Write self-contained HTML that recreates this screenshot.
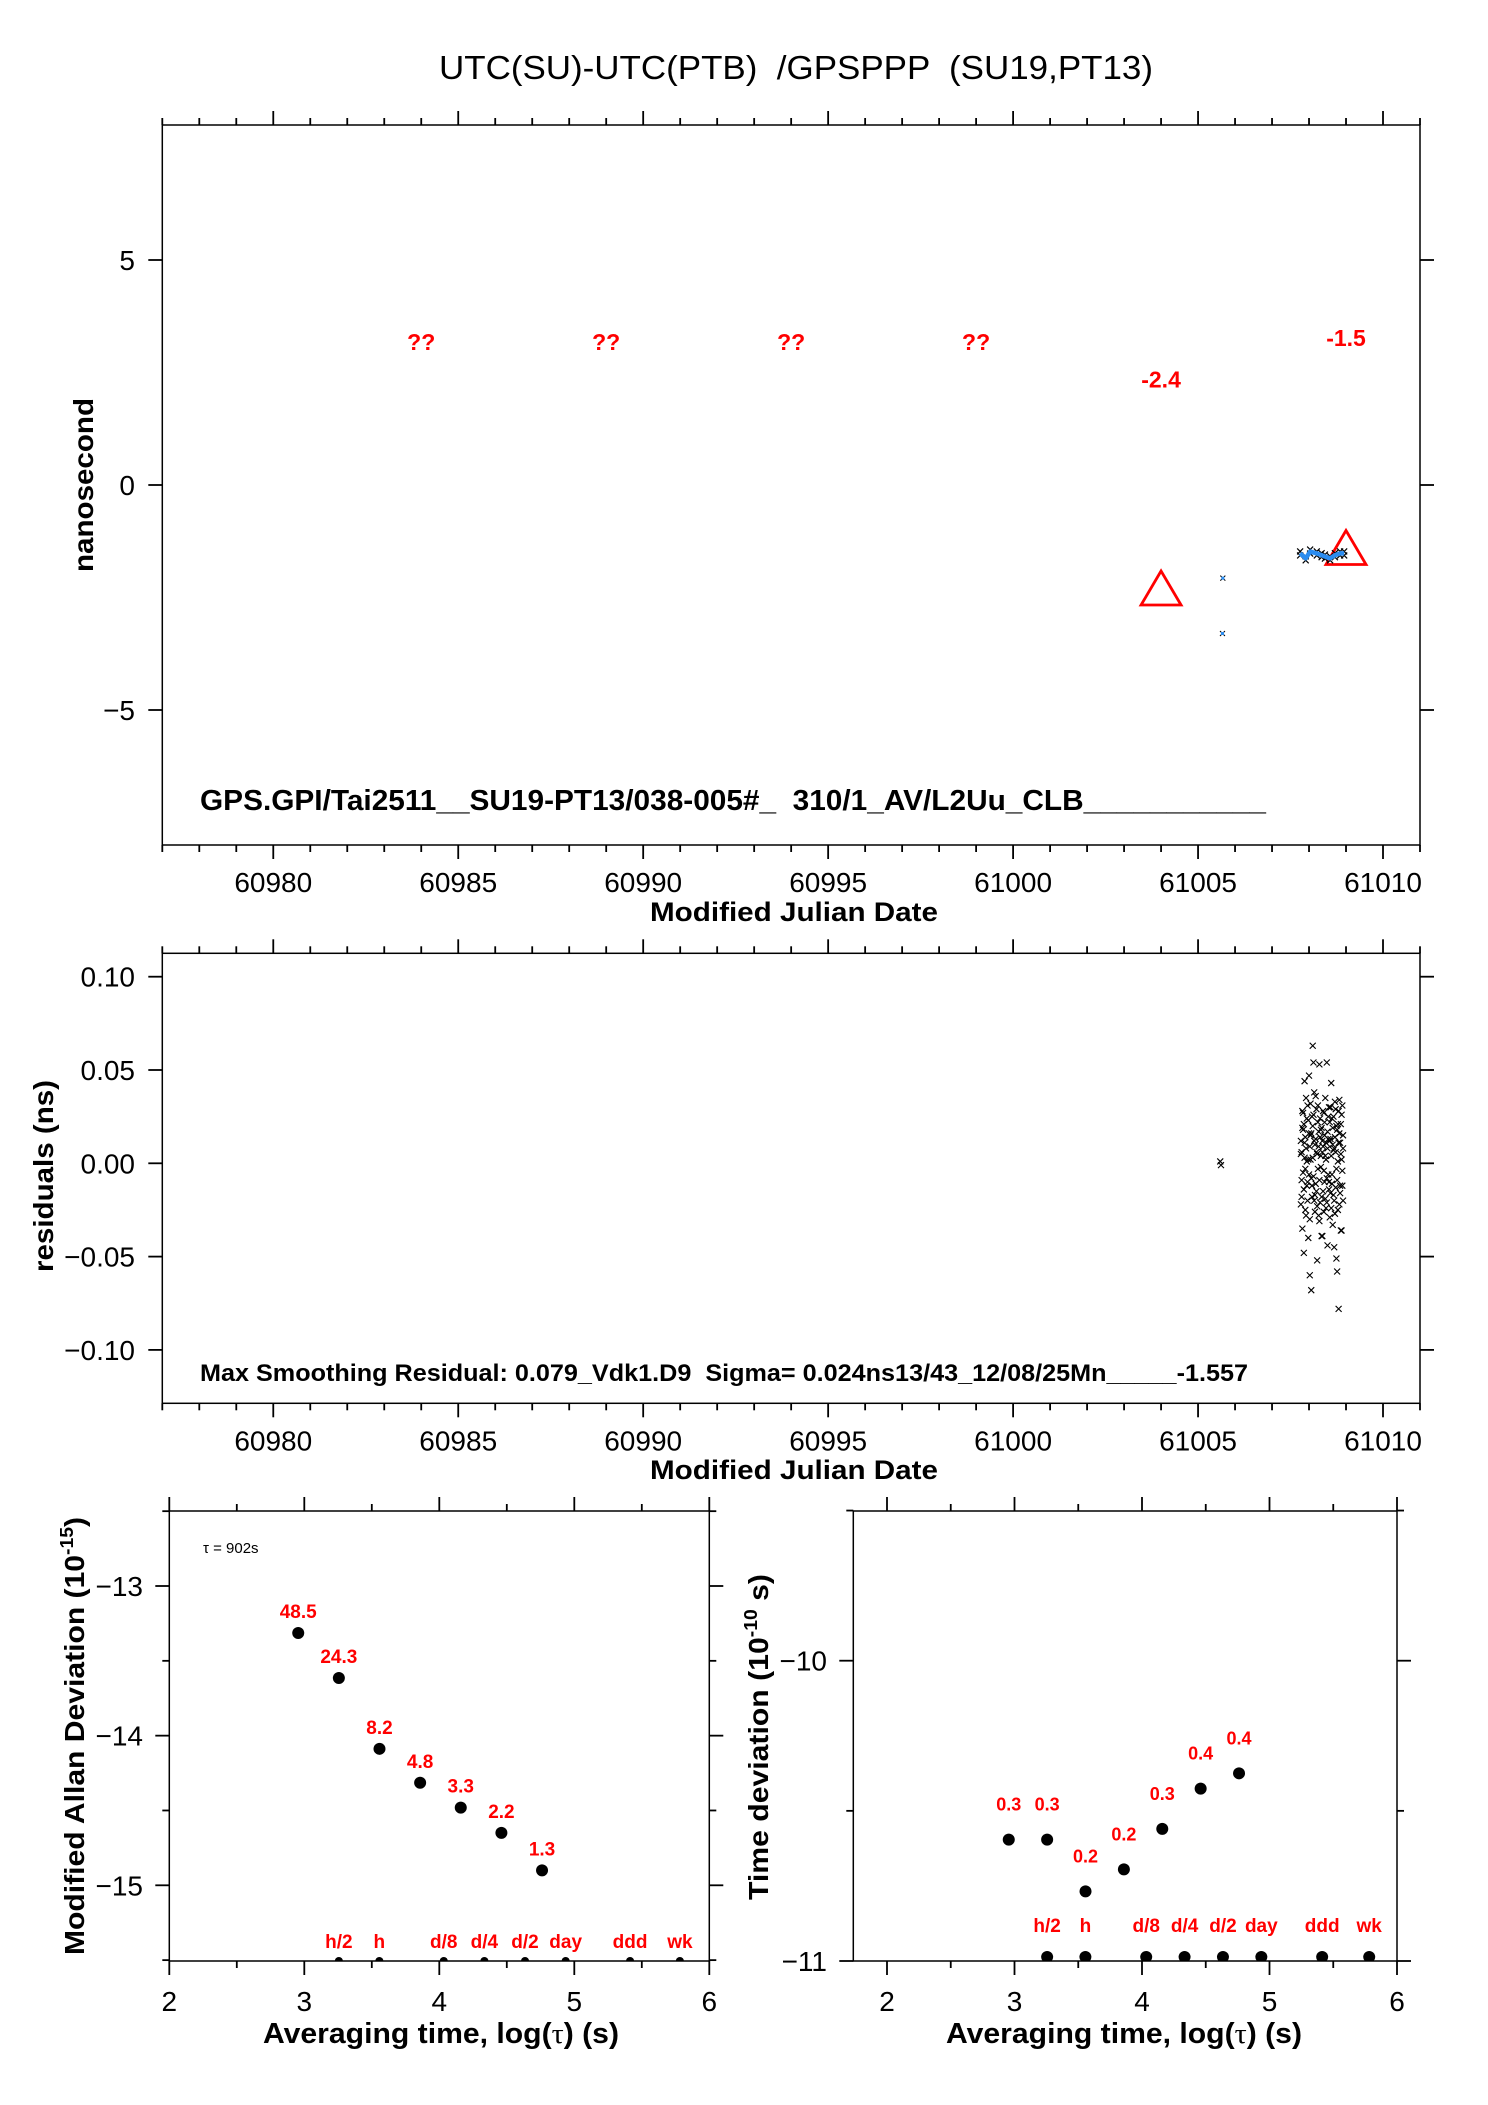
<!DOCTYPE html>
<html><head><meta charset="utf-8"><title>UTC(SU)-UTC(PTB) GPSPPP</title>
<style>
html,body{margin:0;padding:0;background:#fff;}
svg{display:block;font-family:"Liberation Sans",sans-serif;}
svg text{white-space:pre;}
</style></head>
<body>
<svg id="chart" xmlns="http://www.w3.org/2000/svg" width="1488" height="2105" viewBox="0 0 1488 2105" xml:space="preserve">
<rect x="0" y="0" width="1488" height="2105" fill="#fff"/>
<text x="796" y="79" font-size="33" text-anchor="middle" textLength="714" lengthAdjust="spacingAndGlyphs">UTC(SU)-UTC(PTB)  /GPSPPP  (SU19,PT13)</text>
</svg>
<script>
// ---------- data ----------
const mjdTicks = [60980, 60985, 60990, 60995, 61000, 61005, 61010];
const nsTicks = [-5, 0, 5];
const nsTickLabels = ["\u22125", "0", "5"];
const resTicks = [-0.10, -0.05, 0.00, 0.05, 0.10];
const resTickLabels = ["\u22120.10", "\u22120.05", "0.00", "0.05", "0.10"];

const lineMjd = [61007.76, 61007.91, 61008.03, 61008.21, 61008.34, 61008.43, 61008.57, 61008.70, 61008.84, 61008.95];
const lineNs = [-1.52, -1.63, -1.48, -1.52, -1.56, -1.59, -1.63, -1.56, -1.52, -1.52];
const isoMjd = [61005.67, 61005.66];
const isoNs = [-2.07, -3.30];
const triMjd = [61004, 61009];
const triNs = [-2.4, -1.5];
const triLabels = ["-2.4", "-1.5"];
const triLabelNs = [2.35, 3.27];
const qMjd = [60984, 60989, 60994, 60999];
const qNs = [3.18, 3.18, 3.18, 3.18];

const resMjd = [61007.78,61007.80,61007.82,61007.84,61007.86,61007.88,61007.90,61007.92,61007.94,61007.96,
61007.98,61008.00,61008.02,61008.04,61008.06,61008.08,61008.10,61008.12,61008.14,61008.16,
61008.18,61008.20,61008.22,61008.24,61008.26,61008.28,61008.30,61008.32,61008.34,61008.36,
61008.38,61008.40,61008.42,61008.44,61008.46,61008.48,61008.50,61008.52,61008.54,61008.56,
61008.58,61008.60,61008.62,61008.64,61008.66,61008.68,61008.70,61008.72,61008.74,61008.76,
61008.78,61008.80,61008.82,61008.84,61008.86,61008.88,61008.90,61008.92];
const resA = [0.012,-0.018,0.028,-0.005,0.021,0.044,-0.025,0.008,-0.012,0.031,
0.002,0.047,-0.030,0.015,-0.008,0.025,0.063,0.054,-0.020,0.010,
0.036,-0.015,0.005,0.022,-0.028,0.053,0.014,-0.002,0.019,-0.039,
0.009,0.027,-0.010,0.004,-0.024,0.054,0.017,-0.006,0.030,0.012,
-0.016,0.043,0.024,-0.033,0.007,-0.045,0.033,-0.013,0.020,-0.058,
0.001,0.028,-0.022,0.011,-0.036,0.026,-0.004,0.015];
const resB = [-0.022,0.006,-0.035,0.018,-0.048,0.003,0.014,-0.028,0.024,-0.010,
-0.040,0.016,-0.060,0.002,-0.068,-0.018,0.020,-0.007,0.012,-0.026,
-0.011,0.029,-0.052,-0.003,0.009,-0.031,-0.021,0.018,-0.039,0.006,
-0.015,-0.026,0.022,-0.019,0.011,-0.008,-0.044,0.025,-0.014,-0.029,
0.013,-0.024,-0.006,0.019,-0.017,0.008,-0.027,0.029,-0.051,-0.009,
0.021,-0.078,0.016,-0.012,0.005,-0.036,0.031,-0.020];
const resC = [0.005,-0.009,0.019,0.027,-0.014,0.011,-0.003,0.035,0.001,-0.020,
0.023,-0.006,0.009,0.032,0.016,-0.012,0.003,0.026,0.038,-0.017,
0.013,0.006,-0.023,0.031,0.017,-0.009,0.024,0.004,-0.018,0.012,
0.028,-0.004,0.015,0.035,0.002,-0.021,0.008,0.013,-0.010,0.022,
0.030,0.004,-0.011,0.010,0.025,-0.020,0.014,0.006,-0.003,0.018,
-0.025,0.011,0.034,-0.016,0.021,0.002,-0.012,0.008];
const resIsoMjd = [61005.60, 61005.62];
const resIsoVal = [0.001, -0.001];

const logTicks = [2, 3, 4, 5, 6];
const adevLogTau = [2.955, 3.256, 3.557, 3.858, 4.159, 4.460, 4.761];
const adevVal = [-13.314, -13.615, -14.088, -14.315, -14.481, -14.650, -14.900];
const adevLabels = ["48.5", "24.3", "8.2", "4.8", "3.3", "2.2", "1.3"];
const adevTicks = [-15, -14, -13];
const adevTickLabels = ["\u221215", "\u221214", "\u221213"];

const tdevLogTau = [2.955, 3.256, 3.557, 3.858, 4.159, 4.460, 4.761];
const tdevVal = [-10.596, -10.596, -10.768, -10.695, -10.560, -10.426, -10.375];
const tdevLabels = ["0.3", "0.3", "0.2", "0.2", "0.3", "0.4", "0.4"];
const tdevTicks = [-11, -10];
const tdevTickLabels = ["\u221211", "\u221210"];

const markLog = [3.256, 3.556, 4.033, 4.334, 4.635, 4.936, 5.413, 5.782];
const markLabels = ["h/2", "h", "d/8", "d/4", "d/2", "day", "ddd", "wk"];

// ---------- helpers ----------
const svg = document.getElementById('chart');
const NS = 'http://www.w3.org/2000/svg';
function mk(tag, attrs, parent) {
  const e = document.createElementNS(NS, tag);
  for (const k in attrs) e.setAttribute(k, attrs[k]);
  (parent || svg).appendChild(e);
  return e;
}
function lin(d0, d1, p0, p1) { return v => p0 + (v - d0) * (p1 - p0) / (d1 - d0); }

const P1 = {l:162.3, r:1420, t:125, b:845};
const P2 = {l:162.3, r:1420, t:953.3, b:1403.3};
const P3 = {l:169.3, r:709.3, t:1511, b:1961};
const P4 = {l:853.3, r:1397, t:1511, b:1961};
const x1 = lin(60977, 61011, P1.l, P1.r);
const y1 = lin(0, 5, 485, 260);
const y2 = lin(0, 0.05, 1163.3, 1070);
const x3 = lin(2, 6, P3.l, P3.r);
const y3 = lin(-13, -15, 1586, 1885.3);
const x4 = lin(2, 6, 887, P4.r);
const y4 = lin(-10, -11, 1660.7, 1961);

function frame(P, name) {
  const r = mk('rect', {x:P.l, y:P.t, width:P.r-P.l, height:P.b-P.t, fill:'none', stroke:'#000', 'stroke-width':1.5});
  
  
}
function tick(x1_, y1_, x2_, y2_, name) {
  const t = mk('line', {x1:x1_, y1:y1_, x2:x2_, y2:y2_, stroke:'#000', 'stroke-width':1.8});
  
  
}
function txt(x, y, s, attrs, name) {
  const t = mk('text', Object.assign({x:x, y:y}, attrs));
  t.textContent = s;
  
  
  return t;
}

// ---------- panel 1 & 2 ----------
frame(P1, 'time-series-frame');
frame(P2, 'residuals-frame');
[P1, P2].forEach((P) => {
  for (let m = 60977; m <= 61011; m++) {
    const major = (m % 5 === 0);
    const L = major ? 14 : 7;
    const xx = x1(m);
    tick(xx, P.t, xx, P.t - L, 'x-tick-top');
    tick(xx, P.b, xx, P.b + L, 'x-tick-bottom');
  }
  mjdTicks.forEach(m => {
    txt(x1(m), P.b + 47, String(m), {'font-size':28, 'text-anchor':'middle'}, 'x-tick-label');
  });
});
nsTicks.forEach((v, i) => {
  tick(P1.l, y1(v), P1.l - 14, y1(v), 'y-tick-left');
  tick(P1.r, y1(v), P1.r + 14, y1(v), 'y-tick-right');
  txt(135, y1(v) + 10, nsTickLabels[i], {'font-size':28, 'text-anchor':'end'}, 'y-tick-label');
});
resTicks.forEach((v, i) => {
  tick(P2.l, y2(v), P2.l - 14, y2(v), 'y-tick-left');
  tick(P2.r, y2(v), P2.r + 14, y2(v), 'y-tick-right');
  txt(135, y2(v) + 10, resTickLabels[i], {'font-size':28, 'text-anchor':'end'}, 'y-tick-label');
});
txt(794, 921, 'Modified Julian Date', {'font-size':27, 'font-weight':'bold', 'text-anchor':'middle', textLength:288, lengthAdjust:'spacingAndGlyphs'}, 'x-axis-title');
txt(794, 1479, 'Modified Julian Date', {'font-size':27, 'font-weight':'bold', 'text-anchor':'middle', textLength:288, lengthAdjust:'spacingAndGlyphs'}, 'x-axis-title');
txt(0, 0, 'nanosecond', {'font-size':28, 'font-weight':'bold', 'text-anchor':'middle', textLength:174, lengthAdjust:'spacingAndGlyphs', transform:'translate(93,485) rotate(-90)'}, 'y-axis-title');
txt(0, 0, 'residuals (ns)', {'font-size':28, 'font-weight':'bold', 'text-anchor':'middle', textLength:192, lengthAdjust:'spacingAndGlyphs', transform:'translate(53,1176) rotate(-90)'}, 'y-axis-title');
txt(200, 810, 'GPS.GPI/Tai2511__SU19-PT13/038-005#_  310/1_AV/L2Uu_CLB___________', {'font-size':29, 'font-weight':'bold', textLength:1066, lengthAdjust:'spacingAndGlyphs'}, 'link-info-text');
txt(200, 1381, 'Max Smoothing Residual: 0.079_Vdk1.D9  Sigma= 0.024ns13/43_12/08/25Mn_____-1.557', {'font-size':24, 'font-weight':'bold', textLength:1048, lengthAdjust:'spacingAndGlyphs'}, 'residual-stats-text');

qMjd.forEach((m, i) => {
  txt(x1(m), y1(qNs[i]) + 8, '??', {'font-size':23, 'font-weight':'bold', fill:'#ff0000', 'text-anchor':'middle'}, 'missing-value-label');
});
triMjd.forEach((m, i) => {
  txt(x1(m), y1(triLabelNs[i]) + 8, triLabels[i], {'font-size':23, 'font-weight':'bold', fill:'#ff0000', 'text-anchor':'middle'}, 'mean-value-label');
  const cx = x1(m), cy = y1(triNs[i]);
  const tri = mk('polygon', {points:`${cx},${cy-22} ${cx-20},${cy+12} ${cx+20},${cy+12}`, fill:'none', stroke:'#ff0000', 'stroke-width':2.8});
  
  
});
function xmark(cx, cy, s, color, w, name) {
  const p = mk('path', {d:`M${cx-s},${cy-s}L${cx+s},${cy+s}M${cx-s},${cy+s}L${cx+s},${cy-s}`, stroke:color, 'stroke-width':w, fill:'none'});
  
  
}
lineMjd.forEach((m, i) => {
  xmark(x1(m), y1(lineNs[i]) - 2, 3, '#000', 1.2, 'data-marker');
  xmark(x1(m), y1(lineNs[i]) + 2, 3, '#000', 1.2, 'data-marker');
});
const pl = mk('polyline', {points: lineMjd.map((m, i) => x1(m) + ',' + y1(lineNs[i])).join(' '), fill:'none', stroke:'#2a8cf0', 'stroke-width':4.5, 'stroke-linejoin':'round'});


isoMjd.forEach((m, i) => {
  xmark(x1(m), y1(isoNs[i]), 2.5, '#000', 1, 'isolated-point');
  const d = mk('rect', {x:x1(m)-1.5, y:y1(isoNs[i])-1.5, width:3, height:3, fill:'#2a8cf0'});
  
  
});

[resA, resB, resC].forEach(series => {
  series.forEach((v, i) => {
    xmark(x1(resMjd[i]), y2(v), 3, '#000', 1.1, 'residual-point');
  });
});
resIsoMjd.forEach((m, i) => {
  xmark(x1(m), y2(resIsoVal[i]), 3, '#000', 1.1, 'residual-point');
});

// ---------- bottom panels ----------
frame(P3, 'adev-frame');
frame(P4, 'tdev-frame');
const defs = mk('defs', {});
const cp3 = mk('clipPath', {id:'clip3'}, defs);
mk('rect', {x:P3.l, y:P3.t, width:P3.r-P3.l, height:P3.b-P3.t}, cp3);
const cp4 = mk('clipPath', {id:'clip4'}, defs);
mk('rect', {x:P4.l, y:P4.t, width:P4.r-P4.l, height:P4.b-P4.t}, cp4);

function xTicksLog(P, xf, lo) {
  for (let v = lo; v <= 6.001; v += 0.5) {
    const major = Math.abs(v - Math.round(v)) < 1e-6;
    const L = major ? 14 : 7;
    tick(xf(v), P.t, xf(v), P.t - L, 'x-tick-top');
    tick(xf(v), P.b, xf(v), P.b + L, 'x-tick-bottom');
  }
  logTicks.forEach(v => txt(xf(v), 2011, String(v), {'font-size':28, 'text-anchor':'middle'}, 'x-tick-label'));
}
xTicksLog(P3, x3, 2);
xTicksLog(P4, x4, 2);
function yTicksHalf(P, yf, lo, hi, majors, labels, labelRight) {
  for (let v = lo; v <= hi + 1e-6; v += 0.5) {
    const major = Math.abs(v - Math.round(v)) < 1e-6;
    const L = major ? 14 : 7;
    tick(P.l, yf(v), P.l - L, yf(v), 'y-tick-left');
    tick(P.r, yf(v), P.r + L, yf(v), 'y-tick-right');
  }
  majors.forEach((v, i) => txt(labelRight, yf(v) + 10, labels[i], {'font-size':28, 'text-anchor':'end'}, 'y-tick-label'));
}
yTicksHalf(P3, y3, -15.5, -12.5, adevTicks, adevTickLabels, 143);
yTicksHalf(P4, y4, -11, -9.5, tdevTicks, tdevTickLabels, 827);

txt(203, 1553, '\u03c4 = 902s', {'font-size':15}, 'tau-annotation');

adevLogTau.forEach((v, i) => {
  const c = mk('circle', {cx:x3(v), cy:y3(adevVal[i]), r:6, fill:'#000'});
  
  
  txt(x3(v), y3(adevVal[i]) - 15, adevLabels[i], {'font-size':19, 'font-weight':'bold', fill:'#ff0000', 'text-anchor':'middle'}, 'adev-value-label');
});
tdevLogTau.forEach((v, i) => {
  const c = mk('circle', {cx:x4(v), cy:y4(tdevVal[i]), r:6, fill:'#000'});
  
  
  txt(x4(v), y4(tdevVal[i]) - 29, tdevLabels[i], {'font-size':18, 'font-weight':'bold', fill:'#ff0000', 'text-anchor':'middle'}, 'tdev-value-label');
});
markLog.forEach((v, i) => {
  const c3 = mk('circle', {cx:x3(v), cy:P3.b, r:4, fill:'#000', 'clip-path':'url(#clip3)'});
  
  
  txt(x3(v), 1948, markLabels[i], {'font-size':19, 'font-weight':'bold', fill:'#ff0000', 'text-anchor':'middle'}, 'adev-interval-label');
  const c4 = mk('circle', {cx:x4(v), cy:P4.b - 4, r:6, fill:'#000', 'clip-path':'url(#clip4)'});
  
  
  txt(x4(v), 1932, markLabels[i], {'font-size':19, 'font-weight':'bold', fill:'#ff0000', 'text-anchor':'middle'}, 'tdev-interval-label');
});

const t3 = txt(441, 2043, '', {'font-size':29, 'font-weight':'bold', 'text-anchor':'middle', textLength:356, lengthAdjust:'spacingAndGlyphs'}, 'x-axis-title');
t3.innerHTML = 'Averaging time, log(<tspan font-family="Liberation Serif, serif" font-weight="normal">\u03c4</tspan>) (s)';
const t4 = txt(1124, 2043, '', {'font-size':29, 'font-weight':'bold', 'text-anchor':'middle', textLength:356, lengthAdjust:'spacingAndGlyphs'}, 'x-axis-title');
t4.innerHTML = 'Averaging time, log(<tspan font-family="Liberation Serif, serif" font-weight="normal">\u03c4</tspan>) (s)';
const t5 = txt(0, 0, '', {'font-size':28, 'font-weight':'bold', 'text-anchor':'middle', textLength:438, lengthAdjust:'spacingAndGlyphs', transform:'translate(84,1736) rotate(-90)'}, 'y-axis-title');
t5.innerHTML = 'Modified Allan Deviation (10<tspan font-size="18" dy="-11">-15</tspan><tspan dy="11">)</tspan>';
const t6 = txt(0, 0, '', {'font-size':28, 'font-weight':'bold', 'text-anchor':'middle', textLength:326, lengthAdjust:'spacingAndGlyphs', transform:'translate(768,1737) rotate(-90)'}, 'y-axis-title');
t6.innerHTML = 'Time deviation (10<tspan font-size="18" dy="-11">-10</tspan><tspan dy="11"> s)</tspan>';
</script>
</body></html>
